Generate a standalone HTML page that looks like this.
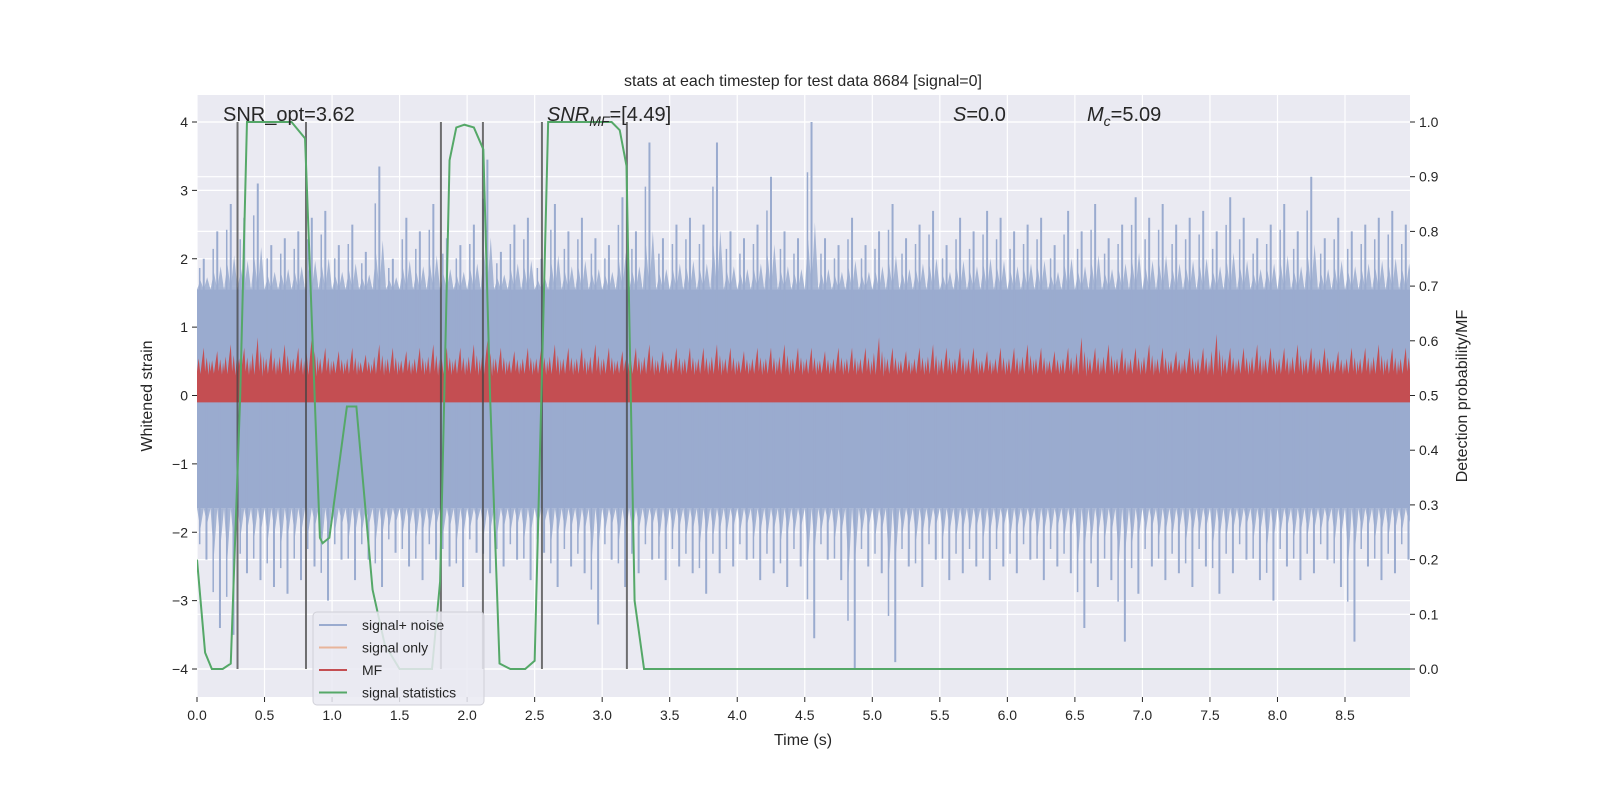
<!DOCTYPE html>
<html><head><meta charset="utf-8"><style>
body{margin:0;background:#fff;}
svg{display:block;font-family:"Liberation Sans","DejaVu Sans",sans-serif;}
</style></head><body>
<svg id="c" width="1600" height="800"></svg>
<script>
const xTicks=[0,0.5,1,1.5,2,2.5,3,3.5,4,4.5,5,5.5,6,6.5,7,7.5,8,8.5];
const xTickLabels=["0.0","0.5","1.0","1.5","2.0","2.5","3.0","3.5","4.0","4.5","5.0","5.5","6.0","6.5","7.0","7.5","8.0","8.5"];
const yTicks=[-4,-3,-2,-1,0,1,2,3,4];
const yTickLabels=["\u22124","\u22123","\u22122","\u22121","0","1","2","3","4"];
const y2Ticks=[0,0.1,0.2,0.3,0.4,0.5,0.6,0.7,0.8,0.9,1.0];
const y2TickLabels=["0.0","0.1","0.2","0.3","0.4","0.5","0.6","0.7","0.8","0.9","1.0"];
const binStart=0, binStep=0.1;
const noiseCoreHi=1.55, noiseCoreLo=-1.65;
const noiseHi=[2.0,2.4,2.8,2.6,3.1,2.2,2.3,2.4,2.6,2.7,
2.2,2.5,2.1,3.35,2.0,2.6,2.4,2.8,2.3,2.2,
2.5,3.45,2.1,2.5,2.6,2.0,2.8,2.4,2.6,2.3,
2.2,2.9,2.4,3.7,2.3,2.5,2.6,2.5,3.7,2.4,
2.3,2.5,3.2,2.4,2.3,4.0,2.3,2.2,2.6,2.2,
2.4,2.8,2.3,2.5,2.7,2.2,2.6,2.4,2.7,2.6,
2.4,2.5,2.6,2.2,2.7,2.4,2.8,2.3,2.5,2.9,
2.6,2.8,2.5,2.6,2.7,2.4,2.9,2.6,2.3,2.5,
2.8,2.4,3.2,2.3,2.6,2.4,2.5,2.6,2.7,2.5];
const noiseLo=[-2.4,-3.4,-3.5,-2.6,-2.7,-2.8,-2.9,-2.7,-2.5,-3.0,
-2.4,-2.7,-2.4,-2.8,-2.3,-2.5,-2.7,-2.4,-2.5,-2.8,
-2.3,-2.6,-2.5,-2.4,-2.7,-2.3,-2.8,-2.5,-2.6,-3.35,
-2.4,-2.8,-2.6,-2.4,-2.7,-2.5,-2.6,-2.9,-2.6,-2.5,
-2.4,-2.7,-2.6,-2.8,-2.5,-3.55,-2.4,-2.7,-4.0,-2.5,
-2.6,-3.9,-2.5,-2.8,-2.4,-2.7,-2.6,-2.5,-2.7,-2.5,
-2.6,-2.4,-2.7,-2.5,-2.6,-3.4,-2.8,-2.7,-3.6,-2.9,
-2.5,-2.7,-2.6,-2.8,-2.5,-2.9,-2.6,-2.4,-2.7,-3.0,
-2.5,-2.7,-2.6,-2.4,-2.8,-3.6,-2.5,-2.7,-2.6,-2.4];
const mfBase=-0.1, mfTyp=0.35;
const mfHi=[0.7,0.65,0.75,0.7,0.85,0.7,0.75,0.7,0.85,0.7,
0.65,0.7,0.6,0.75,0.7,0.65,0.7,0.75,0.7,0.7,
0.75,0.8,0.7,0.65,0.7,0.7,0.75,0.7,0.7,0.75,
0.7,0.65,0.7,0.75,0.65,0.7,0.7,0.7,0.75,0.7,
0.65,0.7,0.7,0.75,0.7,0.7,0.65,0.7,0.7,0.7,
0.85,0.7,0.65,0.7,0.75,0.7,0.7,0.7,0.65,0.7,
0.7,0.75,0.7,0.65,0.7,0.85,0.7,0.75,0.7,0.7,
0.75,0.7,0.65,0.7,0.7,0.9,0.7,0.7,0.75,0.7,
0.7,0.75,0.7,0.7,0.65,0.7,0.7,0.75,0.7,0.7];
const statT=[0,0.06,0.11,0.19,0.25,0.32,0.37,0.70,0.80,0.91,0.93,0.98,1.11,1.18,1.30,1.39,1.50,1.74,1.80,1.87,1.92,1.98,2.05,2.12,2.17,2.24,2.32,2.43,2.50,2.55,2.60,3.07,3.13,3.18,3.24,3.31,3.39,8.99];
const statV=[0.2,0.03,0.0,0.0,0.01,0.5,1.0,1.0,0.97,0.24,0.23,0.24,0.48,0.48,0.145,0.045,0.0,0.0,0.16,0.93,0.99,0.995,0.99,0.95,0.5,0.01,0.0,0.0,0.015,0.5,1.0,1.0,0.985,0.92,0.125,0.0,0.0,0.0];
const boundaries=[0.30,0.807,1.806,2.117,2.554,3.183];

const NS="http://www.w3.org/2000/svg";
const svg=document.getElementById('c');
const L=197,R=1410,T=95,B=697;
const X=v=>L+v*135.06;
const Y=v=>395.5-v*68.375;
const Y2=v=>669-v*547;
function mk(tag,at,parent){const e=document.createElementNS(NS,tag);for(const k in at)e.setAttribute(k,at[k]);(parent||svg).appendChild(e);return e;}

let bg=mk('rect',{x:L,y:T,width:R-L,height:B-T,fill:'#eaeaf2'});


const grid=mk('g',{stroke:'#fff','stroke-width':1.2});


xTicks.forEach(t=>mk('line',{x1:X(t),x2:X(t),y1:T,y2:B},grid));
yTicks.forEach(t=>mk('line',{x1:L,x2:R,y1:Y(t),y2:Y(t)},grid));
y2Ticks.forEach(t=>mk('line',{x1:L,x2:R,y1:Y2(t),y2:Y2(t)},grid));

const clip=mk('clipPath',{id:'pc'});mk('rect',{x:L,y:T,width:R-L,height:B-T},clip);
const noise=mk('g',{'clip-path':'url(#pc)'});


const tEnd=binStart+noiseHi.length*binStep;
mk('rect',{x:X(binStart),y:Y(noiseCoreHi),width:X(tEnd)-X(binStart),height:Y(noiseCoreLo)-Y(noiseCoreHi),fill:'#9aabcf'},noise);
let up=[],dn=[];
noiseHi.forEach((v,i)=>{const t0=binStart+i*binStep;up.push([X(t0),Y(noiseCoreHi)],[X(t0+binStep/4),Y(noiseCoreHi+(v-noiseCoreHi)*0.3)],[X(t0+binStep/2),Y(noiseCoreHi)],[X(t0+binStep*0.75),Y(noiseCoreHi+(v-noiseCoreHi)*0.4)]);});
up.push([X(tEnd),Y(noiseCoreHi)]);
noiseLo.forEach((v,i)=>{const t0=binStart+i*binStep;dn.push([X(t0),Y(noiseCoreLo)],[X(t0+binStep/4),Y(noiseCoreLo+(v-noiseCoreLo)*0.4)],[X(t0+binStep/2),Y(noiseCoreLo)],[X(t0+binStep*0.75),Y(noiseCoreLo+(v-noiseCoreLo)*0.3)]);});
dn.push([X(tEnd),Y(noiseCoreLo)]);
mk('polygon',{points:up.map(p=>p.join(',')).join(' '),fill:'#9aabcf',opacity:0.85},noise);
mk('polygon',{points:dn.map(p=>p.join(',')).join(' '),fill:'#9aabcf',opacity:0.85},noise);
noiseHi.forEach((v,i)=>{const t=binStart+(i+0.5)*binStep;mk('line',{x1:X(t),x2:X(t),y1:Y(0),y2:Y(v),stroke:'#9aabcf','stroke-width':2});
mk('line',{x1:X(t-0.03),x2:X(t-0.03),y1:Y(0),y2:Y(noiseCoreHi+(v-noiseCoreHi)*0.7),stroke:'#9aabcf','stroke-width':1.5});});
noiseLo.forEach((v,i)=>{const t=binStart+(i+0.5)*binStep;mk('line',{x1:X(t+0.02),x2:X(t+0.02),y1:Y(0),y2:Y(v),stroke:'#9aabcf','stroke-width':2});
mk('line',{x1:X(t-0.03),x2:X(t-0.03),y1:Y(0),y2:Y(noiseCoreLo+(v-noiseCoreLo)*0.7),stroke:'#9aabcf','stroke-width':1.5});});

const mf=mk('g',{'clip-path':'url(#pc)'});


let mp=[[X(binStart),Y(mfBase)]];
mfHi.forEach((v,i)=>{const t0=binStart+i*binStep;const d=v-mfTyp;
mp.push([X(t0),Y(mfTyp)],[X(t0+binStep*0.12),Y(mfTyp+d*0.55)],[X(t0+binStep*0.25),Y(mfTyp-d*0.1)],[X(t0+binStep*0.38),Y(mfTyp+d*0.5)],[X(t0+binStep*0.5),Y(v)],[X(t0+binStep*0.6),Y(mfTyp)],[X(t0+binStep*0.72),Y(mfTyp+d*0.6)],[X(t0+binStep*0.85),Y(mfTyp-d*0.15)],[X(t0+binStep*0.93),Y(mfTyp+d*0.45)]);});
mp.push([X(tEnd),Y(mfTyp)],[X(tEnd),Y(mfBase)]);
mk('polygon',{points:mp.map(p=>p.join(',')).join(' '),fill:'#c44e52'},mf);

const bl=mk('g',{stroke:'#444','stroke-opacity':0.75,'stroke-width':2});


boundaries.forEach(t=>mk('line',{x1:X(t),x2:X(t),y1:Y(4),y2:Y(-4)},bl));

const st=mk('polyline',{points:statT.map((t,i)=>X(t)+','+Y2(statV[i])).join(' '),fill:'none',stroke:'#55a868','stroke-width':2,'clip-path':'url(#pc)'});



const ax=mk('g',{fill:'#262626','font-size':14});


xTicks.forEach((t,i)=>{mk('line',{x1:X(t),x2:X(t),y1:B,y2:B+5,stroke:'#262626'},ax);const e=mk('text',{x:X(t),y:B+23,'text-anchor':'middle'},ax);e.textContent=xTickLabels[i];});
yTicks.forEach((t,i)=>{mk('line',{x1:L-5,x2:L,y1:Y(t),y2:Y(t),stroke:'#262626'},ax);const e=mk('text',{x:L-9,y:Y(t)+5,'text-anchor':'end'},ax);e.textContent=yTickLabels[i];});
y2Ticks.forEach((t,i)=>{mk('line',{x1:R,x2:R+5,y1:Y2(t),y2:Y2(t),stroke:'#262626'},ax);const e=mk('text',{x:R+9,y:Y2(t)+5},ax);e.textContent=y2TickLabels[i];});
let e;
e=mk('text',{x:803,y:745,'text-anchor':'middle','font-size':16,fill:'#262626'});e.textContent='Time (s)';

e=mk('text',{x:152,y:396,'text-anchor':'middle','font-size':16,fill:'#262626',transform:'rotate(-90 152 396)'});e.textContent='Whitened strain';

e=mk('text',{x:1467,y:396,'text-anchor':'middle','font-size':16,fill:'#262626',transform:'rotate(-90 1467 396)'});e.textContent='Detection probability/MF';

e=mk('text',{x:803,y:86,'text-anchor':'middle','font-size':16,fill:'#262626'});e.textContent='stats at each timestep for test data 8684 [signal=0]';


const ann=mk('g',{'font-size':20,fill:'#262626'});


ann.innerHTML='<text x="223" y="121">SNR_opt=3.62</text><text x="547" y="121"><tspan font-style="italic">SNR</tspan><tspan font-style="italic" font-size="14" dy="5">MF</tspan><tspan dy="-5">=[4.49]</tspan></text><text x="953" y="121"><tspan font-style="italic">S</tspan>=0.0</text><text x="1087" y="121"><tspan font-style="italic">M</tspan><tspan font-style="italic" font-size="14" dy="5">c</tspan><tspan dy="-5">=5.09</tspan></text>';

const lg=mk('g',{});


mk('rect',{x:313,y:612,width:171,height:93,rx:4,fill:'#eaeaf2','fill-opacity':0.85,stroke:'#d0d0d8'},lg);
[['signal+ noise','#9aabcf'],['signal only','#e8b49a'],['MF','#c44e52'],['signal statistics','#55a868']].forEach((d,i)=>{
 const gy=625+i*22.5;
 mk('line',{x1:319,x2:347,y1:gy,y2:gy,stroke:d[1],'stroke-width':2},lg);
 const t=mk('text',{x:362,y:gy+5,'font-size':14,fill:'#262626'},lg);t.textContent=d[0];
});
</script>
</body></html>
